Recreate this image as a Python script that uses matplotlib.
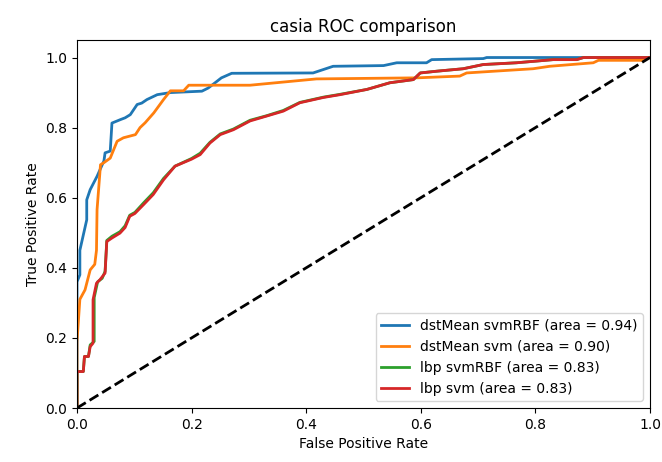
import matplotlib
matplotlib.use("Agg")
import matplotlib.pyplot as plt

# ROC points
fpr_dst_rbf = [0.0, 0.0, 0.005, 0.005, 0.017, 0.017, 0.023, 0.035, 0.047, 0.049, 0.058,
               0.061, 0.076, 0.084, 0.093, 0.105, 0.113, 0.122, 0.14, 0.163, 0.218,
               0.229, 0.241, 0.252, 0.27, 0.412, 0.447, 0.535, 0.558, 0.61, 0.619,
               0.709, 0.715, 1.0]
tpr_dst_rbf = [0.0, 0.36, 0.38, 0.45, 0.537, 0.594, 0.623, 0.661, 0.705, 0.728, 0.733,
               0.813, 0.823, 0.828, 0.837, 0.866, 0.87, 0.88, 0.894, 0.90, 0.904,
               0.913, 0.928, 0.942, 0.955, 0.956, 0.975, 0.977, 0.985, 0.985, 0.994,
               0.997, 1.0, 1.0]

fpr_dst_svm = [0.0, 0.0, 0.005, 0.014, 0.023, 0.031, 0.034, 0.035, 0.041, 0.047, 0.058,
               0.063, 0.07, 0.081, 0.102, 0.11, 0.119, 0.134, 0.151, 0.163, 0.186,
               0.195, 0.302, 0.36, 0.418, 0.593, 0.668, 0.68, 0.796, 0.825, 0.901,
               0.91, 0.988, 0.994, 1.0]
tpr_dst_svm = [0.0, 0.19, 0.31, 0.337, 0.394, 0.41, 0.45, 0.566, 0.694, 0.70, 0.713,
               0.733, 0.761, 0.771, 0.78, 0.80, 0.814, 0.842, 0.88, 0.905, 0.905,
               0.921, 0.921, 0.93, 0.939, 0.942, 0.947, 0.956, 0.968, 0.975, 0.985,
               0.992, 0.992, 1.0, 1.0]

fpr_lbp_rbf = [0.0, 0.0, 0.011, 0.013, 0.02, 0.023, 0.03, 0.03, 0.036, 0.044, 0.049,
               0.052, 0.061, 0.075, 0.084, 0.092, 0.101, 0.116, 0.133, 0.151, 0.171,
               0.2, 0.215, 0.232, 0.25, 0.273, 0.302, 0.331, 0.36, 0.389, 0.43,
               0.459, 0.506, 0.546, 0.587, 0.599, 0.628, 0.674, 0.709, 0.767, 0.831,
               0.872, 0.884, 1.0]
tpr_lbp_rbf = [0.0, 0.104, 0.104, 0.147, 0.147, 0.18, 0.19, 0.315, 0.36, 0.37, 0.39,
               0.478, 0.49, 0.503, 0.52, 0.55, 0.558, 0.585, 0.614, 0.655, 0.69,
               0.712, 0.727, 0.758, 0.782, 0.796, 0.821, 0.834, 0.849, 0.872, 0.887,
               0.895, 0.909, 0.928, 0.937, 0.956, 0.961, 0.968, 0.98, 0.985, 0.994,
               0.994, 1.0, 1.0]

fpr_lbp_svm = [0.0, 0.0, 0.011, 0.013, 0.02, 0.023, 0.028, 0.028, 0.034, 0.04, 0.049,
               0.052, 0.061, 0.075, 0.084, 0.092, 0.101, 0.116, 0.133, 0.151, 0.171,
               0.2, 0.215, 0.232, 0.25, 0.273, 0.302, 0.331, 0.36, 0.389, 0.43,
               0.459, 0.506, 0.546, 0.587, 0.599, 0.628, 0.674, 0.709, 0.767, 0.831,
               0.872, 0.884, 1.0]
tpr_lbp_svm = [0.0, 0.104, 0.104, 0.147, 0.147, 0.175, 0.185, 0.309, 0.356, 0.366, 0.385,
               0.475, 0.485, 0.499, 0.515, 0.547, 0.555, 0.58, 0.609, 0.651, 0.69,
               0.71, 0.723, 0.756, 0.78, 0.794, 0.819, 0.833, 0.847, 0.871, 0.886,
               0.894, 0.909, 0.928, 0.937, 0.956, 0.961, 0.968, 0.98, 0.985, 0.994,
               0.994, 1.0, 1.0]

labels = ["dstMean svmRBF", "dstMean svm", "lbp svmRBF", "lbp svm"]
areas = [0.94, 0.90, 0.83, 0.83]


def main():
    fig = plt.figure(figsize=(6.62, 4.62), dpi=100)
    ax = fig.add_axes([77 / 662, 1 - 408 / 462, 573 / 662, 368 / 462])

    curves = [(fpr_dst_rbf, tpr_dst_rbf), (fpr_dst_svm, tpr_dst_svm),
              (fpr_lbp_rbf, tpr_lbp_rbf), (fpr_lbp_svm, tpr_lbp_svm)]
    for (fpr, tpr), name, auc in zip(curves, labels, areas):
        ax.plot(fpr, tpr, lw=2, label="%s (area = %0.2f)" % (name, auc))

    ax.plot([0, 1], [0, 1], color="black", lw=2, linestyle="--")
    ax.set_xlim([0.0, 1.0])
    ax.set_ylim([0.0, 1.05])
    ax.set_xlabel("False Positive Rate")
    ax.set_ylabel("True Positive Rate")
    ax.set_title("casia ROC comparison")
    ax.legend(loc="lower right")

    fig.savefig("out.png", dpi=100)


if __name__ == "__main__":
    main()
